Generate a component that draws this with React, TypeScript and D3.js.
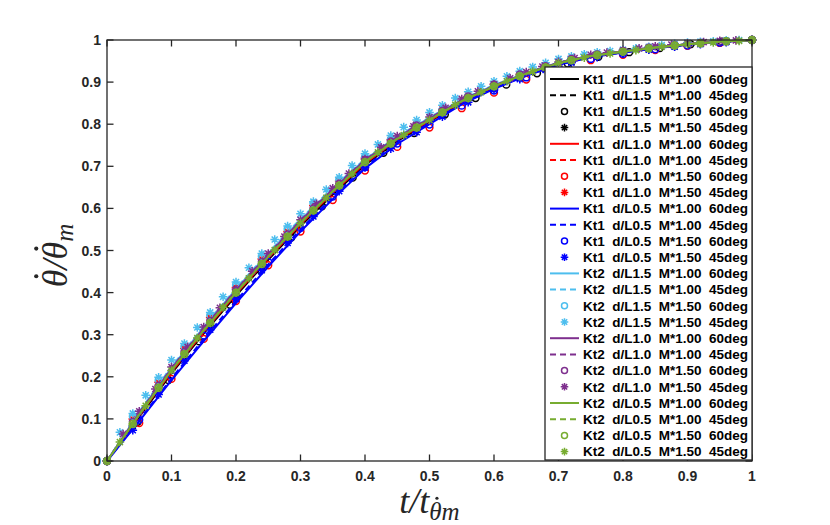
import { useLayoutEffect, useRef, useState } from 'react';
import * as d3 from 'd3';

// sample grids (fraction of t_max)
const grid20 = d3.range(0, 21).map(i => i / 20);
const grid21 = d3.range(0, 22).map(i => i / 21);
const grid25 = d3.range(0, 26).map(i => i / 25);
const grid40 = d3.range(0, 41).map(i => i / 40);
const grid50 = d3.range(0, 51).map(i => i / 50);

// Kt1 d/L1.5
const kt1L15M100d60 = [0, .105, .208, .303, .393, .478, .558, .633, .703, .76, .806, .851, .887, .918, .943, .96, .971, .981, .989, .996, 1];
const kt1L15M100d45 = [0, .107, .211, .306, .396, .481, .561, .636, .706, .762, .808, .853, .888, .919, .944, .961, .972, .982, .99, .996, 1];
const kt1L15M150d60 = [0, .093, .192, .284, .371, .453, .531, .605, .673, .732, .779, .823, .862, .894, .921, .944, .96, .971, .981, .99, .996, 1];
const kt1L15M150d45 = [0, .083, .168, .248, .322, .394, .462, .527, .589, .648, .704, .749, .787, .823, .857, .886, .91, .931, .948, .961, .97, .978, .985, .991, .996, 1];
// Kt1 d/L1.0
const kt1L10M100d60 = [0, .108, .212, .307, .397, .482, .562, .637, .707, .763, .808, .853, .888, .919, .944, .961, .972, .982, .99, .996, 1];
const kt1L10M100d45 = [0, .11, .215, .31, .40, .485, .565, .64, .709, .764, .81, .854, .889, .92, .945, .962, .972, .982, .99, .996, 1];
const kt1L10M150d60 = [0, .09, .195, .29, .38, .465, .545, .62, .69, .746, .792, .838, .875, .906, .933, .952, .965, .976, .986, .993, 1];
const kt1L10M150d45 = [0, .1, .187, .267, .341, .412, .48, .545, .607, .665, .72, .763, .8, .835, .868, .895, .918, .938, .955, .966, .974, .982, .988, .993, .997, 1];
// Kt1 d/L0.5
const kt1L05M100d60 = [0, .095, .192, .285, .375, .462, .545, .622, .695, .753, .80, .847, .884, .915, .941, .959, .97, .98, .989, .995, 1];
const kt1L05M100d45 = [0, .098, .196, .29, .38, .467, .55, .627, .699, .756, .803, .849, .885, .916, .942, .96, .971, .981, .989, .995, 1];
const kt1L05M150d60 = [0, .098, .203, .298, .388, .473, .553, .628, .698, .754, .799, .844, .88, .911, .937, .955, .967, .978, .987, .994, 1];
const kt1L05M150d45 = [0, .073, .158, .238, .312, .385, .453, .518, .581, .641, .697, .742, .781, .818, .852, .882, .907, .929, .946, .959, .968, .977, .984, .99, .995, 1];
// Kt2 d/L1.5
const kt2L15M100d60 = [0, .115, .222, .318, .408, .493, .573, .647, .716, .77, .815, .858, .892, .922, .946, .963, .973, .983, .99, .996, 1];
const kt2L15M100d45 = [0, .117, .224, .32, .41, .495, .575, .649, .717, .771, .816, .859, .893, .922, .946, .963, .973, .983, .99, .996, 1];
const kt2L15M150d60 = [0, .106, .192, .272, .346, .418, .486, .551, .612, .668, .722, .764, .8, .834, .867, .894, .917, .937, .954, .965, .974, .982, .988, .993, .997, 1];
const kt2L15M150d45 = [0, .068, .113, .156, .199, .24, .279, .317, .353, .39, .425, .459, .493, .526, .558, .587, .616, .645, .674, .702, .73, .752, .773, .793, .81, .828, .845, .862, .877, .89, .902, .914, .926, .936, .946, .955, .961, .966, .971, .974, .977, .98, .984, .988, .991, .994, .996, .997, .999, 1, 1];
// Kt2 d/L1.0
const kt2L10M100d60 = [0, .113, .219, .315, .405, .49, .57, .645, .714, .768, .813, .857, .891, .921, .946, .963, .973, .983, .99, .996, 1];
const kt2L10M100d45 = [0, .114, .22, .316, .406, .491, .571, .646, .715, .769, .814, .857, .891, .921, .946, .963, .973, .983, .99, .996, 1];
const kt2L10M150d60 = [0, .093, .179, .259, .333, .405, .473, .538, .6, .659, .715, .759, .797, .832, .866, .894, .918, .938, .955, .966, .974, .982, .988, .993, .997, 1];
const kt2L10M150d45 = [0, .064, .118, .171, .223, .271, .318, .364, .408, .451, .493, .533, .573, .611, .648, .683, .717, .745, .772, .795, .817, .839, .86, .878, .895, .909, .924, .937, .948, .957, .965, .97, .975, .98, .985, .989, .992, .995, .998, .999, 1];
// Kt2 d/L0.5
const kt2L05M100d60 = [0, .11, .215, .31, .40, .485, .565, .64, .71, .765, .81, .855, .89, .92, .945, .962, .972, .982, .99, .996, 1];
const kt2L05M100d45 = [0, .111, .216, .311, .401, .486, .566, .641, .711, .766, .811, .855, .89, .92, .945, .962, .972, .982, .99, .996, 1];
const kt2L05M150d60 = [0, .088, .174, .254, .328, .40, .468, .533, .595, .654, .71, .754, .792, .828, .862, .89, .914, .935, .952, .964, .972, .98, .987, .992, .997, 1];
const kt2L05M150d45 = [0, .045, .088, .131, .174, .215, .254, .292, .328, .365, .40, .434, .468, .501, .533, .565, .595, .625, .654, .682, .71, .733, .754, .774, .792, .81, .828, .846, .862, .876, .89, .902, .914, .925, .935, .945, .952, .958, .964, .968, .972, .976, .98, .984, .987, .99, .992, .994, .997, .998, 1];

const xTicks = [0, 0.1, 0.2, 0.3, 0.4, 0.5, 0.6, 0.7, 0.8, 0.9, 1];
const yTicks = [0, 0.1, 0.2, 0.3, 0.4, 0.5, 0.6, 0.7, 0.8, 0.9, 1];

type Kind = 'solid' | 'dashed' | 'circle' | 'star';
interface Series { label: string; color: string; kind: Kind; t: number[]; y: number[]; width: number; }

const BLACK = '#000000', RED = '#ff0000', BLUE = '#0000ff';
const CYAN = '#4dbeee', PURPLE = '#7e2f8e', GREEN = '#77ac30';

const series: Series[] = [
  { label: 'Kt1  d/L1.5  M*1.00  60deg', color: BLACK, kind: 'solid', t: grid20, y: kt1L15M100d60, width: 2 },
  { label: 'Kt1  d/L1.5  M*1.00  45deg', color: BLACK, kind: 'dashed', t: grid20, y: kt1L15M100d45, width: 2 },
  { label: 'Kt1  d/L1.5  M*1.50  60deg', color: BLACK, kind: 'circle', t: grid21, y: kt1L15M150d60, width: 1.5 },
  { label: 'Kt1  d/L1.5  M*1.50  45deg', color: BLACK, kind: 'star', t: grid25, y: kt1L15M150d45, width: 1.5 },
  { label: 'Kt1  d/L1.0  M*1.00  60deg', color: RED, kind: 'solid', t: grid20, y: kt1L10M100d60, width: 2 },
  { label: 'Kt1  d/L1.0  M*1.00  45deg', color: RED, kind: 'dashed', t: grid20, y: kt1L10M100d45, width: 2 },
  { label: 'Kt1  d/L1.0  M*1.50  60deg', color: RED, kind: 'circle', t: grid20, y: kt1L10M150d60, width: 1.5 },
  { label: 'Kt1  d/L1.0  M*1.50  45deg', color: RED, kind: 'star', t: grid25, y: kt1L10M150d45, width: 1.5 },
  { label: 'Kt1  d/L0.5  M*1.00  60deg', color: BLUE, kind: 'solid', t: grid20, y: kt1L05M100d60, width: 2 },
  { label: 'Kt1  d/L0.5  M*1.00  45deg', color: BLUE, kind: 'dashed', t: grid20, y: kt1L05M100d45, width: 2 },
  { label: 'Kt1  d/L0.5  M*1.50  60deg', color: BLUE, kind: 'circle', t: grid20, y: kt1L05M150d60, width: 1.5 },
  { label: 'Kt1  d/L0.5  M*1.50  45deg', color: BLUE, kind: 'star', t: grid25, y: kt1L05M150d45, width: 1.5 },
  { label: 'Kt2  d/L1.5  M*1.00  60deg', color: CYAN, kind: 'solid', t: grid20, y: kt2L15M100d60, width: 2 },
  { label: 'Kt2  d/L1.5  M*1.00  45deg', color: CYAN, kind: 'dashed', t: grid20, y: kt2L15M100d45, width: 2 },
  { label: 'Kt2  d/L1.5  M*1.50  60deg', color: CYAN, kind: 'circle', t: grid25, y: kt2L15M150d60, width: 1.5 },
  { label: 'Kt2  d/L1.5  M*1.50  45deg', color: CYAN, kind: 'star', t: grid50, y: kt2L15M150d45, width: 1.5 },
  { label: 'Kt2  d/L1.0  M*1.00  60deg', color: PURPLE, kind: 'solid', t: grid20, y: kt2L10M100d60, width: 2 },
  { label: 'Kt2  d/L1.0  M*1.00  45deg', color: PURPLE, kind: 'dashed', t: grid20, y: kt2L10M100d45, width: 2 },
  { label: 'Kt2  d/L1.0  M*1.50  60deg', color: PURPLE, kind: 'circle', t: grid25, y: kt2L10M150d60, width: 1.5 },
  { label: 'Kt2  d/L1.0  M*1.50  45deg', color: PURPLE, kind: 'star', t: grid40, y: kt2L10M150d45, width: 1.5 },
  { label: 'Kt2  d/L0.5  M*1.00  60deg', color: GREEN, kind: 'solid', t: grid20, y: kt2L05M100d60, width: 2 },
  { label: 'Kt2  d/L0.5  M*1.00  45deg', color: GREEN, kind: 'dashed', t: grid20, y: kt2L05M100d45, width: 2 },
  { label: 'Kt2  d/L0.5  M*1.50  60deg', color: GREEN, kind: 'circle', t: grid25, y: kt2L05M150d60, width: 1.5 },
  { label: 'Kt2  d/L0.5  M*1.50  45deg', color: GREEN, kind: 'star', t: grid50, y: kt2L05M150d45, width: 1.5 },
];

const W = 830;
const H = 525;
const margin = { top: 40, right: 78, bottom: 64, left: 107 };
const AXIS = '#262626';
const SANS = '"Liberation Sans", Arial, Helvetica, sans-serif';
const SERIF = '"Liberation Serif", "Times New Roman", serif';
const DASH = '6,4';
const LABEL_FS = 36;
const SUB_FS = 25;

const starPath = (r: number) => {
  const d = r * Math.SQRT1_2;
  return `M0,${-r}L0,${r}M${-r},0L${r},0M${-d},${-d}L${d},${d}M${-d},${d}L${d},${-d}`;
};

function Mark({ s, x, y, size = 1 }: { s: Series; x: number; y: number; size?: number }) {
  if (s.kind === 'circle') {
    return <circle cx={x} cy={y} r={3.4 * size} fill="none" stroke={s.color} strokeWidth={1.5} />;
  }
  return <path d={starPath(4.3 * size)} transform={`translate(${x},${y})`} fill="none" stroke={s.color} strokeWidth={1.5} />;
}

interface Dot { x: number; y: number; r: number; }

// place an overdot above a given character of a text element
function dotOver(el: SVGTextElement, idx: number, fs: number, r: number): Dot | null {
  try {
    const e = el.getExtentOfChar(idx);
    const baseline = e.y + e.height * (0.891 / 1.107);
    return { x: e.x + e.width * 0.62, y: baseline - 0.86 * fs, r };
  } catch {
    return null;
  }
}

export default function App() {
  const x = d3.scaleLinear().domain([0, 1]).range([margin.left, W - margin.right]);
  const y = d3.scaleLinear().domain([0, 1]).range([H - margin.bottom, margin.top]);
  const line = d3.line<[number, number]>().x(d => x(d[0])).y(d => y(d[1]));

  const yLabRef = useRef<SVGTextElement>(null);
  const xLabRef = useRef<SVGTextElement>(null);
  const [yDots, setYDots] = useState<Dot[]>([]);
  const [xDots, setXDots] = useState<Dot[]>([]);

  useLayoutEffect(() => {
    const measure = () => {
      if (yLabRef.current) {
        const ds = [dotOver(yLabRef.current, 0, LABEL_FS, 2.1), dotOver(yLabRef.current, 2, LABEL_FS, 2.1)];
        setYDots(ds.filter(Boolean) as Dot[]);
      }
      if (xLabRef.current) {
        const d = dotOver(xLabRef.current, 3, SUB_FS, 1.6);
        setXDots(d ? [d] : []);
      }
    };
    measure();
    document.fonts?.ready.then(measure);
  }, []);

  const x0 = x(0), x1 = x(1), y0 = y(0), y1 = y(1);
  const tick = 6.5;

  // legend layout
  const lgX = 545, lgY = 67, lgW = x1 - lgX, lgH = y0 - lgY - 1;
  const rowH = 16.2, row0 = lgY + 12;

  return (
    <svg width={W} height={H} style={{ position: 'absolute', left: 0, top: 0, background: '#fff' }}>
      <rect x={0} y={0} width={W} height={H} fill="#fff" />
      <g>
        {series.map((s, i) => {
          const pts = s.t.map((t, k) => [t, s.y[k]] as [number, number]);
          if (s.kind === 'solid' || s.kind === 'dashed') {
            return (
              <path key={i} d={line(pts) ?? ''} fill="none" stroke={s.color} strokeWidth={s.width}
                strokeDasharray={s.kind === 'dashed' ? DASH : undefined} strokeLinejoin="round" />
            );
          }
          return <g key={i}>{pts.map((p, k) => <Mark key={k} s={s} x={x(p[0])} y={y(p[1])} />)}</g>;
        })}
      </g>

      {/* axes box */}
      <rect x={x0} y={y1} width={x1 - x0} height={y0 - y1} fill="none" stroke={AXIS} strokeWidth={1.3} />
      {xTicks.map(t => (
        <g key={'x' + t}>
          <line x1={x(t)} x2={x(t)} y1={y0} y2={y0 - tick} stroke={AXIS} strokeWidth={1.3} />
          <line x1={x(t)} x2={x(t)} y1={y1} y2={y1 + tick} stroke={AXIS} strokeWidth={1.3} />
          <text x={x(t)} y={y0 + 20} textAnchor="middle" fontFamily={SANS} fontWeight="bold" fontSize={14} fill={AXIS}>
            {d3.format('~g')(t)}
          </text>
        </g>
      ))}
      {yTicks.map(t => (
        <g key={'y' + t}>
          <line x1={x0} x2={x0 + tick} y1={y(t)} y2={y(t)} stroke={AXIS} strokeWidth={1.3} />
          <line x1={x1} x2={x1 - tick} y1={y(t)} y2={y(t)} stroke={AXIS} strokeWidth={1.3} />
          <text x={x0 - 6} y={y(t) + 5} textAnchor="end" fontFamily={SANS} fontWeight="bold" fontSize={14} fill={AXIS}>
            {d3.format('~g')(t)}
          </text>
        </g>
      ))}

      {/* axis labels */}
      <text ref={xLabRef} x={x(0.5)} y={513} textAnchor="middle" fontFamily={SERIF} fontStyle="italic" fontSize={LABEL_FS} fill={AXIS}>
        t/t<tspan fontSize={SUB_FS} dy={7}>{'\u03B8m'}</tspan>
      </text>
      {xDots.map((d, i) => <circle key={'xd' + i} cx={d.x} cy={d.y} r={d.r} fill={AXIS} />)}
      <g transform={`translate(67,${(y0 + y1) / 2 + 5}) rotate(-90)`}>
        <text ref={yLabRef} x={0} y={0} textAnchor="middle" fontFamily={SERIF} fontStyle="italic" fontSize={LABEL_FS} fill={AXIS}>
          {'\u03B8/\u03B8'}<tspan fontSize={SUB_FS} dy={6}>m</tspan>
        </text>
        {yDots.map((d, i) => <circle key={'yd' + i} cx={d.x} cy={d.y} r={d.r} fill={AXIS} />)}
      </g>

      {/* legend */}
      <rect x={lgX} y={lgY} width={lgW} height={lgH} fill="#fff" stroke={AXIS} strokeWidth={1.3} />
      {series.map((s, i) => {
        const cy = row0 + i * rowH;
        return (
          <g key={'lg' + i}>
            {s.kind === 'solid' || s.kind === 'dashed' ? (
              <line x1={550} x2={579} y1={cy} y2={cy} stroke={s.color} strokeWidth={s.width}
                strokeDasharray={s.kind === 'dashed' ? DASH : undefined} />
            ) : (
              <Mark s={s} x={564.5} y={cy} size={0.88} />
            )}
            <text x={583} y={cy + 4.8} fontFamily={SANS} fontWeight="bold" fontSize={13.5} fill="#000"
              style={{ whiteSpace: 'pre' }}>
              {s.label}
            </text>
          </g>
        );
      })}
    </svg>
  );
}
